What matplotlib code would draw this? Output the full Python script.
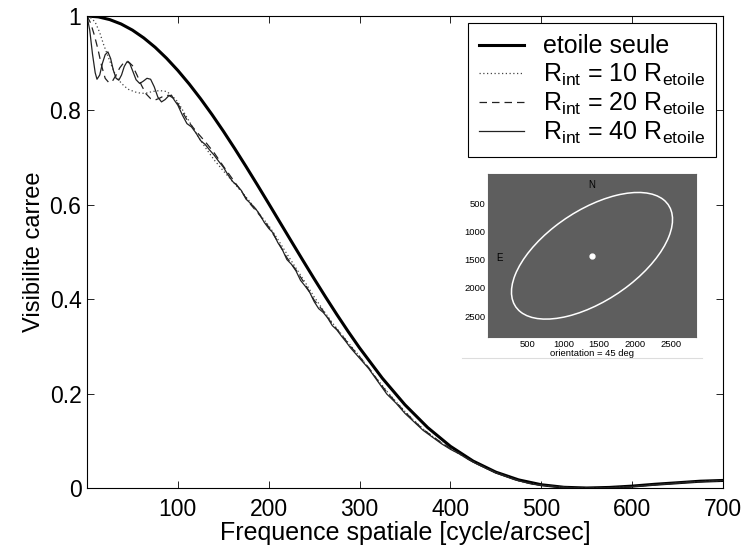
import numpy as np
import matplotlib
matplotlib.use('Agg')
import matplotlib.pyplot as plt
from matplotlib.patches import Ellipse

plt.rcParams['font.family'] = ['Liberation Sans', 'DejaVu Sans']
plt.rcParams['mathtext.fontset'] = 'custom'
plt.rcParams['mathtext.rm'] = 'Liberation Sans'
plt.rcParams['mathtext.it'] = 'Liberation Sans:italic'

# star alone (thick curve)
x_star = [0, 12.5, 25, 37.5, 50, 62.5, 75, 87.5, 100, 112.5, 125, 137.5, 150,
          162.5, 175, 187.5, 200, 212.5, 225, 237.5, 250, 262.5, 275, 287.5, 300,
          325, 350, 375, 400, 425, 450, 475, 500, 525, 550, 575, 600, 625, 650,
          675, 700]
v_star = [1.0, 0.9981, 0.9924, 0.9831, 0.9701, 0.9535, 0.9337, 0.9106, 0.8846,
          0.8559, 0.8247, 0.7914, 0.7562, 0.7193, 0.6812, 0.6422, 0.6025, 0.5624,
          0.5224, 0.4826, 0.4433, 0.4049, 0.3675, 0.3314, 0.2968, 0.2327, 0.1762,
          0.1280, 0.0883, 0.0570, 0.0336, 0.0172, 0.0069, 0.0015, 0.0, 0.0012,
          0.0040, 0.0079, 0.0111, 0.0144, 0.0160]

# R_int = 10 R_etoile (dotted)
x_10 = [0, 5, 9, 14, 18, 23, 27, 32, 38, 45, 53, 60, 66, 72, 80, 88, 95, 100,
        110, 120, 130, 140, 150, 160, 170, 180, 190, 200, 210, 220, 230, 240, 250,
        260, 270, 280, 290, 300, 310, 320, 330, 340, 350, 360, 370, 380, 390, 400,
        410, 420, 430, 440, 450, 460, 470, 480, 490, 500, 520, 540, 560, 580, 600,
        620, 640, 660, 680, 700]
v_10 = [1.0, 0.995, 0.987, 0.965, 0.941, 0.915, 0.895, 0.872, 0.857, 0.845, 0.839,
        0.836, 0.837, 0.840, 0.842, 0.840, 0.828, 0.818, 0.785, 0.752, 0.722, 0.695,
        0.672, 0.650, 0.628, 0.605, 0.580, 0.556, 0.527, 0.496, 0.466, 0.436, 0.405,
        0.377, 0.350, 0.326, 0.302, 0.279, 0.254, 0.229, 0.205, 0.183, 0.162, 0.143,
        0.125, 0.110, 0.096, 0.083, 0.072, 0.061, 0.051, 0.041, 0.033, 0.026, 0.019,
        0.013, 0.009, 0.006, 0.002, 0.000, 0.000, 0.001, 0.003, 0.006, 0.009, 0.012,
        0.014, 0.016]

# R_int = 20 R_etoile (dashed)
x_20 = [0, 4, 8, 12, 16, 20, 24, 28, 32, 36, 40, 45, 50, 55, 60, 65, 70, 75, 80,
        85, 90, 95, 100, 110, 120, 130, 140, 150, 160, 170, 180, 190, 200, 210, 220,
        230, 240, 250, 260, 270, 280, 290, 300, 310, 320, 330, 340, 350, 360, 370,
        380, 390, 400, 410, 420, 430, 440, 450, 460, 470, 480, 490, 500, 520, 540,
        560, 580, 600, 620, 640, 660, 680, 700]
v_20 = [1.0, 0.985, 0.96, 0.93, 0.895, 0.868, 0.859, 0.862, 0.875, 0.89, 0.90,
        0.904, 0.895, 0.875, 0.853, 0.835, 0.825, 0.822, 0.826, 0.831, 0.832, 0.826,
        0.814, 0.78, 0.756, 0.734, 0.71, 0.682, 0.655, 0.628, 0.601, 0.578, 0.553,
        0.522, 0.488, 0.462, 0.432, 0.398, 0.375, 0.347, 0.325, 0.300, 0.278, 0.255,
        0.228, 0.203, 0.182, 0.161, 0.142, 0.124, 0.110, 0.096, 0.084, 0.073, 0.061,
        0.051, 0.042, 0.033, 0.026, 0.019, 0.013, 0.009, 0.006, 0.002, 0.000, 0.000,
        0.001, 0.003, 0.006, 0.009, 0.012, 0.014, 0.016]

# R_int = 40 R_etoile (thin solid)
x_40 = [0, 3, 6, 9, 11, 14, 17, 20, 23, 26, 29, 32, 35, 38, 41, 44, 47, 50, 54,
        58, 62, 66, 70, 74, 78, 82, 86, 90, 93, 96, 100, 105, 110, 115, 120, 125,
        130, 135, 140, 145, 150, 155, 160, 165, 170, 175, 180, 185, 190, 195, 200,
        205, 210, 215, 220, 225, 230, 235, 240, 245, 250, 255, 260, 265, 270, 275,
        280, 285, 290, 295, 300, 310, 320, 330, 340, 350, 360, 370, 380, 390, 400,
        410, 420, 430, 440, 450, 460, 470, 480, 490, 500, 520, 540, 560, 580, 600,
        620, 640, 660, 680, 700]
v_40 = [1.0, 0.97, 0.92, 0.88, 0.866, 0.875, 0.90, 0.918, 0.924, 0.91, 0.885,
        0.868, 0.864, 0.875, 0.893, 0.903, 0.900, 0.885, 0.865, 0.857, 0.862, 0.868,
        0.866, 0.85, 0.828, 0.818, 0.823, 0.831, 0.832, 0.822, 0.811, 0.79, 0.772,
        0.765, 0.752, 0.736, 0.728, 0.716, 0.705, 0.692, 0.680, 0.664, 0.650, 0.641,
        0.630, 0.612, 0.603, 0.593, 0.580, 0.563, 0.550, 0.540, 0.520, 0.505, 0.484,
        0.474, 0.460, 0.440, 0.428, 0.415, 0.395, 0.380, 0.372, 0.360, 0.344, 0.335,
        0.322, 0.310, 0.297, 0.286, 0.275, 0.253, 0.226, 0.199, 0.180, 0.158, 0.140,
        0.122, 0.108, 0.094, 0.082, 0.072, 0.060, 0.050, 0.041, 0.032, 0.025, 0.018,
        0.013, 0.008, 0.006, 0.002, 0.000, 0.000, 0.001, 0.003, 0.006, 0.009, 0.012,
        0.014, 0.016]

labels = ['etoile seule',
          r'R$_{\rm int}$ = 10 R$_{\rm etoile}$',
          r'R$_{\rm int}$ = 20 R$_{\rm etoile}$',
          r'R$_{\rm int}$ = 40 R$_{\rm etoile}$']

xticks = [100, 200, 300, 400, 500, 600, 700]
yticks = [0, 0.2, 0.4, 0.6, 0.8, 1]
ytick_labels = ['0', '0.2', '0.4', '0.6', '0.8', '1']

# inset image parameters
orientation = 45
ell_center = (1400, 1430)
ell_axes = (2816, 1468)
inset_ticks = [500, 1000, 1500, 2000, 2500]

fig = plt.figure(figsize=(7.46, 5.46), dpi=100)
ax = fig.add_axes([87/746, 1-488/546, 636/746, 472/546])

ax.plot(x_star, v_star, color='black', lw=2.2, label=labels[0])
ax.plot(x_10, v_10, color='#444444', lw=0.9, ls=(0, (1, 2)), label=labels[1])
ax.plot(x_20, v_20, color='#222222', lw=0.9, ls=(0, (6, 4)), label=labels[2])
ax.plot(x_40, v_40, color='#222222', lw=0.9, label=labels[3])

ax.set_xlim(0, 700)
ax.set_ylim(0, 1)
ax.set_xticks(xticks)
ax.set_yticks(yticks)
ax.set_yticklabels(ytick_labels)
ax.tick_params(direction='in', length=5, width=0.6, top=True, right=True,
               labelsize=16.5)
ax.tick_params(axis='x', pad=7)
ax.tick_params(axis='y', pad=4)
for s in ax.spines.values():
    s.set_linewidth(0.8)
ax.set_xlabel('Frequence spatiale [cycle/arcsec]', fontsize=18, labelpad=0)
ax.set_ylabel('Visibilite carree', fontsize=17, labelpad=3)

leg = ax.legend(loc='upper right', bbox_to_anchor=(0.989, 0.985), borderaxespad=0,
                fontsize=18, handlelength=1.8, labelspacing=0.12, fancybox=False,
                framealpha=1, edgecolor='black', borderpad=0.45, handletextpad=0.75)
leg.get_frame().set_linewidth(0.8)

# inset picture
ins = fig.add_axes([488/746, 1-337/546, 208/746, 163/546])
ins.set_facecolor('#5e5e5e')
ins.set_xlim(-50, 2850)
ins.set_ylim(2870, -20)
ins.add_patch(Ellipse(ell_center, ell_axes[0], ell_axes[1], angle=-orientation,
                      fill=False, edgecolor='white', lw=1.1))
ins.plot([ell_center[0]], [ell_center[1]], 'o', color='white', ms=3.5)
ins.text(1400, 170, 'N', fontsize=7, ha='center', va='center')
ins.text(110, 1470, 'E', fontsize=7, ha='center', va='center')
ins.set_xticks(inset_ticks)
ins.set_yticks(inset_ticks)
ins.tick_params(direction='in', length=2, width=0.5, labelsize=6.8, pad=2,
                color='#5e5e5e')
for s in ins.spines.values():
    s.set_color('#5e5e5e')
ins.set_xlabel('orientation = %d deg' % orientation, fontsize=6.8, labelpad=0)

fig.add_artist(plt.Line2D([462/746, 702/746], [1-358/546, 1-358/546],
                          color='#dddddd', lw=0.8))

fig.savefig('out.png', dpi=100)
